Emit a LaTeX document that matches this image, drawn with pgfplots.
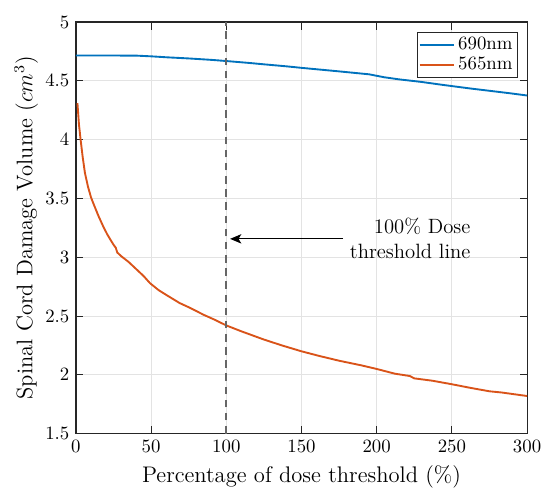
\documentclass[border=0pt]{standalone}
\usepackage{pgfplots}
\pgfplotsset{compat=1.18}
\usetikzlibrary{arrows.meta}

\definecolor{mblue}{rgb}{0,0.447,0.741}
\definecolor{morange}{rgb}{0.85,0.325,0.098}
\definecolor{axgray}{rgb}{0.15,0.15,0.15}

\begin{document}
\begin{tikzpicture}
\begin{axis}[
  scale only axis,
  width=240pt, height=219pt,
  xmin=0, xmax=300, ymin=1.5, ymax=5,
  xtick={0,50,...,300},
  ytick={1.5,2,...,5},
  tick align=inside,
  major tick length=4pt,
  axis line style={axgray, line width=0.6pt},
  tick style={axgray, line width=0.5pt},
  grid=major,
  grid style={gray!22, line width=0.5pt},
  xlabel={Percentage of dose threshold (\%)},
  ylabel={Spinal Cord Damage Volume ($cm^3$)},
  ylabel shift=-3pt,
  label style={font=\fontsize{12}{14}\selectfont},
  tick label style={font=\fontsize{10}{12}\selectfont},
  xticklabel style={inner xsep=0pt},
  legend style={at={(0.979,0.976)}, anchor=north east, draw=axgray,
    font=\fontsize{10}{12}\selectfont, inner sep=0.5pt, row sep=-1.5pt,
    cells={anchor=west}},
  legend image code/.code={\draw[#1] (0pt,0pt) -- (18pt,0pt);},
  clip=false,
]
\addplot[mblue, line width=1pt] coordinates {
(0,4.715) (20,4.715) (40,4.714) (50,4.708) (60,4.70) (75,4.69) (90,4.678)
(100,4.668) (115,4.652) (125,4.64) (140,4.623) (150,4.61) (160,4.598)
(175,4.58) (195,4.555) (205,4.53) (215,4.512) (230,4.49) (240,4.472)
(250,4.455) (262,4.435) (275,4.415) (288,4.395) (300,4.375)};
\addlegendentry{690nm}
\addplot[morange, line width=1pt] coordinates {
(1,4.31) (1.5,4.22) (2,4.13) (3.1,4.00) (4.5,3.85) (6,3.715) (8,3.60)
(10,3.51) (11.5,3.46) (15,3.35) (18.2,3.26) (21,3.19) (24.8,3.11)
(26.5,3.08) (27.5,3.04) (30,3.01) (35,2.96) (40,2.90) (45,2.84)
(49.2,2.78) (55,2.72) (60,2.68) (69,2.61) (75.8,2.57) (85,2.51)
(92,2.47) (100,2.42) (110,2.37) (125,2.30) (137,2.25) (150,2.20)
(162,2.16) (175,2.12) (190,2.08) (200,2.05) (212,2.01) (222,1.99)
(225,1.97) (237,1.95) (250,1.92) (262,1.89) (275,1.86) (283,1.85)
(300,1.82)};
\addlegendentry{565nm}
\addplot[black!60, line width=0.9pt, dash pattern=on 4pt off 3pt, forget plot]
  coordinates {(100,1.5) (100,5)};
\draw[-{Stealth[length=6pt,width=5pt,inset=1.5pt]}, line width=0.6pt, black]
  (axis cs:177.6,3.156) -- (axis cs:102.5,3.156);
\node[anchor=east, align=right, font=\fontsize{11}{13}\selectfont, inner sep=0pt]
  at (axis cs:262.6,3.16) {100\% Dose\\threshold line};
\end{axis}
\path (current axis.south west) ++(-40.4pt,-31.4pt) coordinate (bbA);
\path (current axis.north east) ++(9pt,11.7pt) coordinate (bbB);
\path (bbA) rectangle (bbB);
\end{tikzpicture}
\end{document}
